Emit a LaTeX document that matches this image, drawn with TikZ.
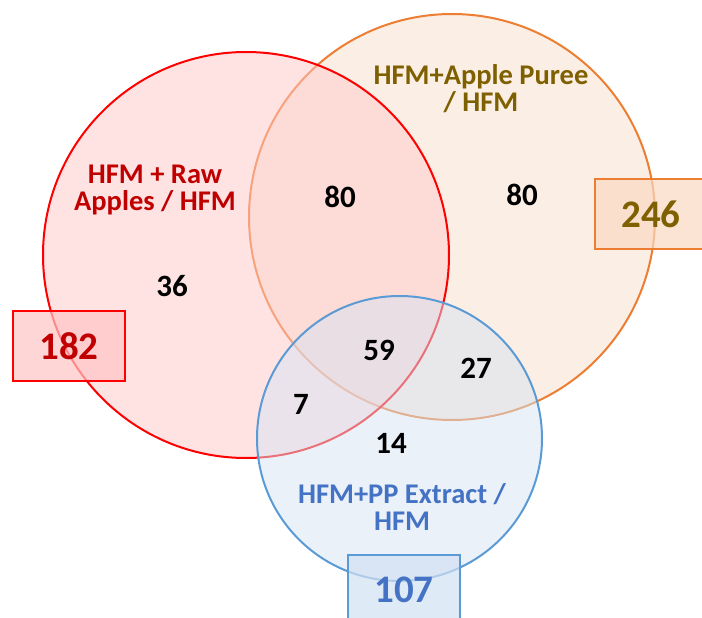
\documentclass[tikz,border=0pt]{standalone}
\usepackage{fontspec}
\setmainfont{Carlito}
\definecolor{redline}{HTML}{FF0000}
\definecolor{redfill}{HTML}{FFC8C8}
\definecolor{redtext}{HTML}{C00000}
\definecolor{orangeline}{HTML}{ED7D31}
\definecolor{orangefill}{HTML}{F8DDC9}
\definecolor{oranglabel}{HTML}{7F6000}
\definecolor{blueline}{HTML}{5B9BD5}
\definecolor{bluefill}{HTML}{D5E3F3}
\definecolor{bluetext}{HTML}{4472C4}
\definecolor{redboxfill}{HTML}{FFC4C4}
\definecolor{orangeboxfill}{HTML}{F9D9C2}
\definecolor{blueboxfill}{HTML}{D2E1F3}
\tikzset{
  setcircle/.style={line width=2pt, fill opacity=0.5},
  setlabel/.style={align=center, inner sep=0pt, font=\bfseries\fontsize{28.5}{27}\selectfont},
  count/.style={inner sep=0pt, font=\bfseries\fontsize{31}{31}\selectfont, text=black},
  totalbox/.style={line width=2pt, minimum width=112pt, minimum height=70pt, inner sep=0pt,
    fill opacity=0.7, text opacity=1, font=\bfseries\fontsize{39}{39}\selectfont},
}
\begin{document}
\begin{tikzpicture}[x=1pt, y=-1pt]
  \useasboundingbox (0,0) rectangle (702,618);
  % the three sets, back to front
  \draw[setcircle, orangeline, fill=orangefill] (452,217) circle (203);
  \draw[setcircle, redline, fill=redfill] (246,255) circle (203);
  \draw[setcircle, blueline, fill=bluefill] (399.5,438.5) circle (142.5);

  % set names
  \node[setlabel, text=redtext] (rawlab) at (155,190) {HFM + Raw\\Apples / HFM};
  \node[setlabel, text=oranglabel] (pureelab) at (481,89) {HFM+Apple Puree\\/ HFM};
  \node[setlabel, text=bluetext] (ppxlab) at (402,507) {HFM+PP Extract /\\HFM};

  % region counts
  \node[count] (nraw) at (172,286) {36};
  \node[count] (nrawpuree) at (340,197) {80};
  \node[count] (npuree) at (522,195) {80};
  \node[count] (nall) at (379,350) {59};
  \node[count] (npureeppx) at (476,368) {27};
  \node[count] (nrawppx) at (301,404) {7};
  \node[count] (nppx) at (391,443) {14};

  % set totals
  \node[totalbox, draw=redline, fill=redboxfill, text=redtext] (traw) at (69,346) {182};
  \node[totalbox, draw=orangeline, fill=orangeboxfill, text=oranglabel] (tpuree) at (651,214) {246};
  \node[totalbox, draw=blueline, fill=blueboxfill, text=bluetext] (tppx) at (404,590) {107};
\end{tikzpicture}
\end{document}
